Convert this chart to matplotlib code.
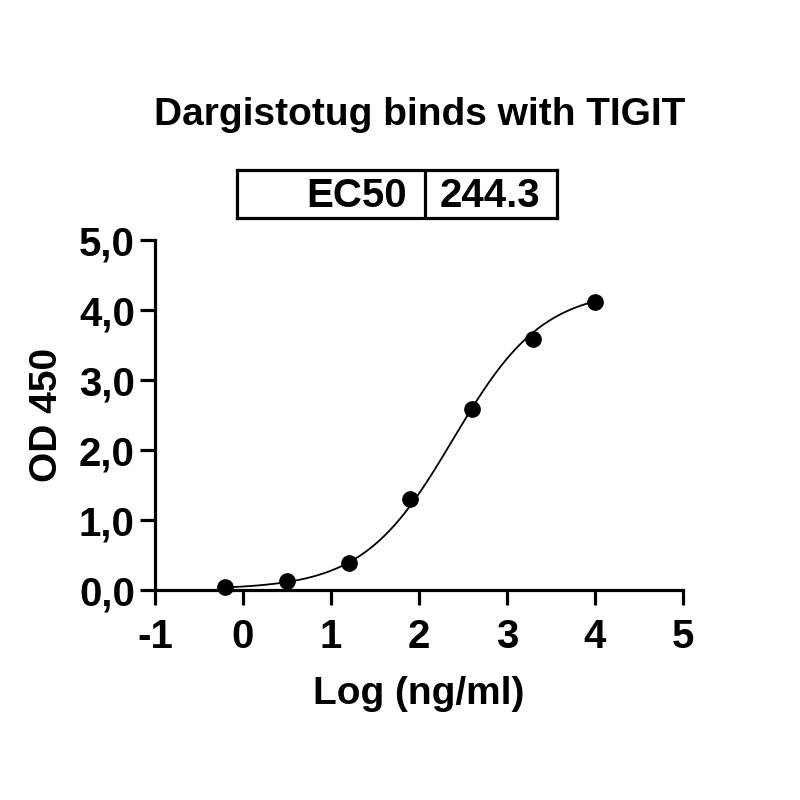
import numpy as np
import matplotlib
matplotlib.use('Agg')
import matplotlib.pyplot as plt
from matplotlib.ticker import FuncFormatter

plt.rcParams['font.family'] = ['Liberation Sans', 'DejaVu Sans']
plt.rcParams['font.weight'] = 'bold'
plt.rcParams['axes.unicode_minus'] = False

# measured points
log_conc = [-0.2, 0.5, 1.2, 1.9, 2.6, 3.3, 4.0]
od450 = [0.05, 0.13, 0.38, 1.30, 2.58, 3.58, 4.12]

# 4PL fit parameters (EC50 from the table)
ec50 = 244.3
bottom, top, hill = 0.01, 4.30, 0.85

x_ticks = [-1, 0, 1, 2, 3, 4, 5]
y_ticks = [0, 1, 2, 3, 4, 5]

fig = plt.figure(figsize=(8, 8), dpi=100)
ax = fig.add_axes([0.19375, 0.2625, 0.66, 0.4375])

xs = np.linspace(min(log_conc), max(log_conc), 300)
ys = bottom + (top - bottom) / (1 + 10 ** ((np.log10(ec50) - xs) * hill))
ax.plot(xs, ys, color='black', lw=1.3, zorder=2)
ax.plot(log_conc, od450, 'o', color='black', ms=11, zorder=3, clip_on=False)

ax.set_xlim(-1, 5)
ax.set_ylim(0, 5)
ax.set_xticks(x_ticks)
ax.set_yticks(y_ticks)
ax.yaxis.set_major_formatter(FuncFormatter(lambda v, p: f'{v:.1f}'.replace('.', ',')))
ax.tick_params(labelsize=29, width=2.3, length=10.5)
ax.tick_params(axis='x', pad=10)
ax.tick_params(axis='y', pad=4)
for s in ['top', 'right']:
    ax.spines[s].set_visible(False)
for s in ['left', 'bottom']:
    ax.spines[s].set_linewidth(2.3)

ax.set_xlabel('Log (ng/ml)', fontsize=28, fontweight='bold', labelpad=14)
ax.set_ylabel('OD 450', fontsize=28, fontweight='bold', labelpad=10)

fig.text(0.524, 0.856, 'Dargistotug binds with TIGIT', ha='center', va='center',
         fontsize=28, fontweight='bold')

# EC50 table
tb = fig.add_axes([0.296, 0.7275, 0.4, 0.06])
tb.set_xlim(0, 1)
tb.set_ylim(0, 1)
tb.set_xticks([])
tb.set_yticks([])
for s in tb.spines.values():
    s.set_linewidth(2.3)
tb.axvline(0.5875, color='black', lw=2.3)
tb.text(0.53, 0.45, 'EC50', ha='right', va='center', fontsize=29, fontweight='bold')
tb.text(0.635, 0.45, f'{ec50}', ha='left', va='center', fontsize=29, fontweight='bold')

fig.savefig('out.png', dpi=100)
